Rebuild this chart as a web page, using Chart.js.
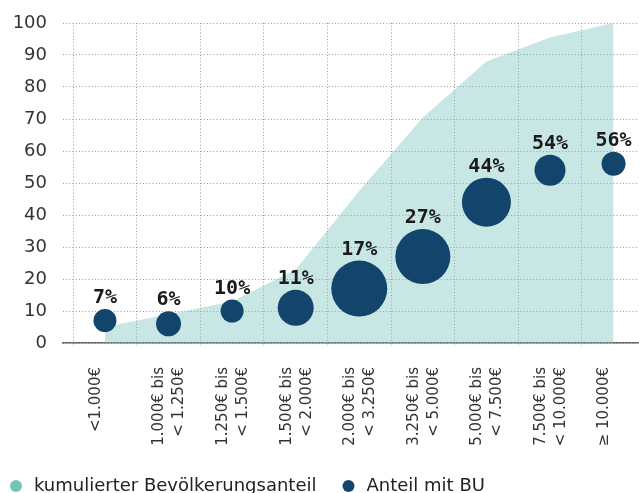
<!DOCTYPE html>
<html>
<head>
<meta charset="utf-8">
<script src="https://cdn.jsdelivr.net/npm/chart.js@4"></script>
<style>
  html, body { margin: 0; padding: 0; background: #fff; overflow: hidden; }
  #wrap { width: 639px; height: 493px; }
</style>
</head>
<body>
<div id="wrap"><canvas id="chart"></canvas></div>
<script>
// Einkommensklassen (x axis)
const brackets = [
    '<1.000€',
    ['1.000€ bis', '< 1.250€'],
    ['1.250€ bis', '< 1.500€'],
    ['1.500€ bis', '< 2.000€'],
    ['2.000€ bis', '< 3.250€'],
    ['3.250€ bis', '< 5.000€'],
    ['5.000€ bis', '< 7.500€'],
    ['7.500€ bis', '< 10.000€'],
    '≥ 10.000€'
];

// kumulierter Bevölkerungsanteil in %
const cumPopulation = [5, 9, 13, 23, 47.5, 70.5, 88, 95.5, 100];

// Anteil mit BU in %
const shareBU = [7, 6, 10, 11, 17, 27, 44, 54, 56];

// bubble radius (px)
const bubbleSize = [11.5, 12.5, 11.5, 18, 28, 27.5, 24.5, 15.5, 12];

const seriesNames = ['kumulierter Bevölkerungsanteil', 'Anteil mit BU'];

const teal = '#76c3bd';
const navy = '#13456c';
const gridColor = '#9a9a9a';

// draws "xx%" above every bubble
const bubbleLabels = {
    id: 'bubbleLabels',
    afterDatasetsDraw(chart) {
        const meta = chart.getDatasetMeta(1);
        const c = chart.ctx;
        c.save();
        c.font = 'bold 20px "DejaVu Sans Mono"';
        c.fillStyle = '#1b1b1b';
        c.textAlign = 'center';
        c.textBaseline = 'alphabetic';
        meta.data.forEach((el, i) => {
            c.fillText(shareBU[i] + '%', el.x, el.y - el.options.radius - 6);
        });
        c.restore();
    }
};

const ctx = document.getElementById('chart').getContext('2d');

new Chart(ctx, {
    type: 'bubble',
    data: {
        datasets: [
            {
                type: 'line',
                label: seriesNames[0],
                data: cumPopulation.map((v, i) => ({ x: i, y: v })),
                fill: 'origin',
                backgroundColor: 'rgba(118, 195, 189, 0.41)',
                borderWidth: 0,
                pointRadius: 0,
                pointBackgroundColor: teal,
                pointBorderWidth: 0,
                tension: 0,
                order: 2
            },
            {
                label: seriesNames[1],
                data: shareBU.map((v, i) => ({ x: i, y: v, r: bubbleSize[i] })),
                backgroundColor: navy,
                borderWidth: 0,
                hoverRadius: 0,
                order: 1
            }
        ]
    },
    options: {
        responsive: true,
        maintainAspectRatio: false,
        animation: false,
        events: [],
        layout: { autoPadding: false, padding: { top: 23, left: -16, right: 0, bottom: -12 } },
        plugins: {
            tooltip: { enabled: false },
            legend: {
                position: 'bottom',
                align: 'start',
                labels: {
                    usePointStyle: true,
                    pointStyle: 'circle',
                    boxWidth: 18,
                    boxHeight: 8.5,
                    padding: 23,
                    color: '#222',
                    font: { family: 'DejaVu Sans', size: 18 },
                    sort: (a, b) => a.datasetIndex - b.datasetIndex
                }
            }
        },
        scales: {
            x: {
                type: 'linear',
                min: -0.66,
                max: 8.4,
                afterBuildTicks: s => { s.ticks = brackets.map((b, i) => ({ value: i })); },
                afterFit: s => {
                    s.height = 111;
                    s.paddingLeft = 0;
                    s.paddingRight = 0;
                },
                grid: {
                    offset: true,
                    color: gridColor,
                    lineWidth: 1,
                    tickLength: 4,
                    tickBorderDash: [1, 2.2]
                },
                border: { display: true, color: '#666', width: 1.5, dash: [1, 2.2] },
                ticks: {
                    autoSkip: false,
                    minRotation: 90,
                    maxRotation: 90,
                    padding: 20,
                    labelOffset: -9,
                    color: '#333',
                    font: { family: 'DejaVu Sans', size: 15, lineHeight: 1.33 },
                    callback: v => brackets[v]
                }
            },
            y: {
                min: 0,
                max: 100,
                afterFit: s => {
                    s.width = 79;
                    s.paddingTop = 0;
                    s.paddingBottom = 0;
                },
                grid: { color: gridColor, lineWidth: 1, drawTicks: false },
                border: { display: false, dash: [1, 2.2] },
                ticks: {
                    stepSize: 10,
                    padding: 16,
                    color: '#333',
                    font: { family: 'DejaVu Sans', size: 18 }
                }
            }
        }
    },
    plugins: [bubbleLabels]
});
</script>
</body>
</html>
